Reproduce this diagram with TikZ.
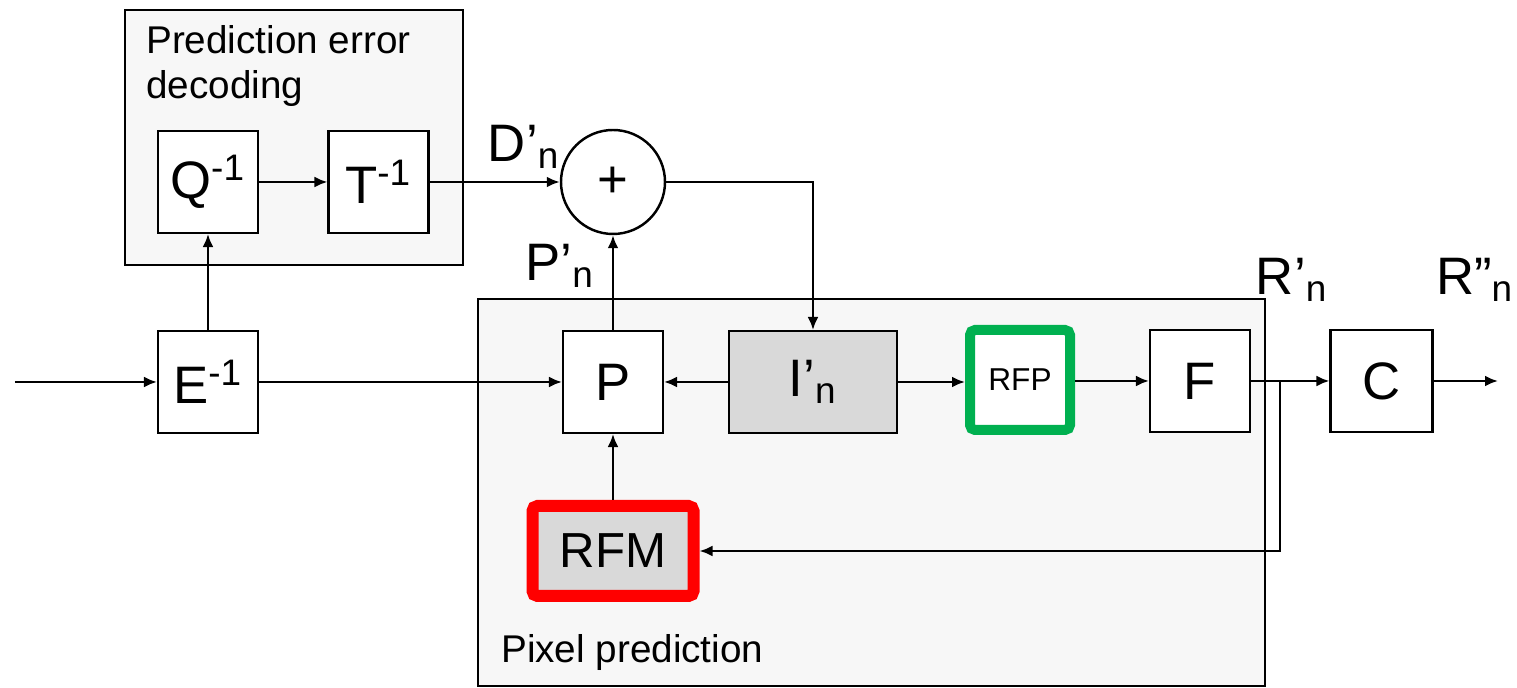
\documentclass[tikz,border=0pt]{standalone}
\usepackage{fontspec}
\setmainfont{Liberation Sans}
\usetikzlibrary{arrows.meta}
\definecolor{rfpgreen}{HTML}{00B050}
\definecolor{rfmred}{HTML}{FF0000}
\definecolor{regiongray}{HTML}{F7F7F7}
\definecolor{blockgray}{HTML}{D9D9D9}
\tikzset{
  block/.style={draw, line width=0.6pt, fill=white, minimum width=1cm,
    minimum height=1.02cm, inner sep=0pt, font=\fontsize{15}{15}\selectfont},
  region/.style={draw, line width=0.6pt, fill=regiongray},
  regiontitle/.style={align=left, inner sep=0pt, font=\fontsize{11}{12.8}\selectfont},
  siglabel/.style={inner sep=0pt, font=\fontsize{15}{15}\selectfont},
}
\begin{document}
\begin{tikzpicture}[>={Latex[length=1.3mm,width=1.1mm]}, line width=0.7pt]
  \useasboundingbox (0,0) rectangle (15.17,-6.88);
  % 枠 (prediction error decoding / pixel prediction)
  \draw[region] (1.25,-0.10) rectangle (4.63,-2.65);
  \draw[region] (4.78,-2.99) rectangle (12.65,-6.86);
  \node[regiontitle, anchor=north west] (pedtitle) at (1.45,-0.24) {Prediction error\\decoding};
  \node[regiontitle, anchor=base west] (pixtitle) at (5.00,-6.63) {Pixel prediction};
  % ブロック
  \node[block] (Q) at (2.08,-1.82) {Q\textsuperscript{-1}};
  \node[block] (T) at (3.785,-1.82) {T\textsuperscript{-1}};
  \node[draw, circle, fill=white, minimum size=1.04cm, inner sep=0pt,
    font=\fontsize{15}{15}\selectfont] (plus) at (6.13,-1.82) {+};
  \node[block] (E) at (2.08,-3.82) {E\textsuperscript{-1}};
  \node[block] (P) at (6.13,-3.82) {P};
  \node[block, fill=blockgray, minimum width=1.68cm] (I) at (8.13,-3.82) {I'\textsubscript{n}};
  \node[block, draw=rfpgreen, line width=1mm, rounded corners=0.5mm, minimum width=1cm,
    minimum height=1cm, font=\fontsize{9}{9}\selectfont] (RFP) at (10.20,-3.80) {RFP};
  \node[block] (F) at (12.00,-3.81) {F};
  \node[block, minimum width=1.02cm] (C) at (13.815,-3.81) {C};
  \node[block, fill=blockgray, draw=rfmred, line width=1.2mm, rounded corners=0.5mm,
    minimum width=1.61cm, minimum height=0.90cm, font=\fontsize{14}{14}\selectfont]
    (RFM) at (6.13,-5.51) {RFM};
  % 信号名
  \node[siglabel] (Dn) at (5.24,-1.47) {D'\textsubscript{n}};
  \node[siglabel] (Pn) at (5.60,-2.66) {P'\textsubscript{n}};
  \node[siglabel] (Rn) at (12.92,-2.80) {R'\textsubscript{n}};
  \node[siglabel] (Rnn) at (14.75,-2.80) {R''\textsubscript{n}};
  % 端点
  \coordinate (in) at (0.15,-3.82);
  \coordinate (out) at (14.98,-3.81);
  \coordinate (branch) at (12.80,-3.81);
  % 接続
  \draw[->] (in) -- (E.west);
  \draw[->] (E.north) -- (Q.south);
  \draw[->] (Q.east) -- (T.west);
  \draw[->] (T.east) -- (plus.west);
  \draw[->] (plus.east) -| (I.north);
  \draw[->] (E.east) -- (P.west);
  \draw[->] (P.north) -- (plus.south);
  \draw[->] (I.west) -- (P.east);
  \draw[->] (I.east) -- (I.east -| RFP.west);
  \draw[->] (RFP.east |- F.west) -- (F.west);
  \draw[->] (F.east) -- (C.west);
  \draw[->] (branch) |- (RFM.east);
  \draw[->] (RFM.north) -- (P.south);
  \draw[->] (C.east) -- (out);
\end{tikzpicture}
\end{document}
